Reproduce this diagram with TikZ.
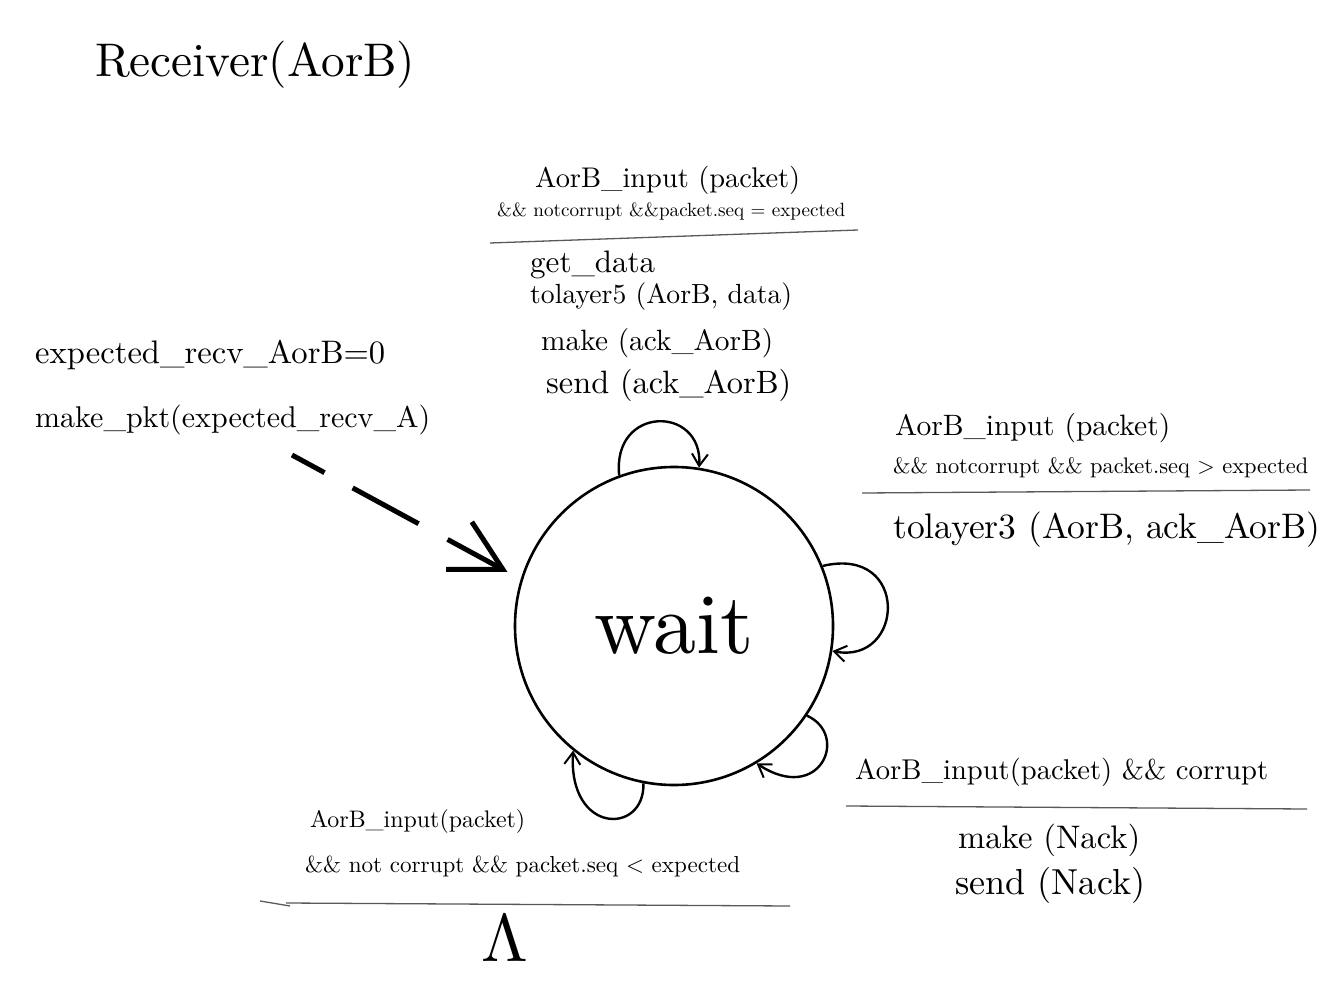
\documentclass[tikz,border=0pt]{standalone}
\usetikzlibrary{arrows.meta}
\newcommand\fitw[2]{\resizebox{#1pt}{!}{#2}}
\begin{document}
\begin{tikzpicture}[x=1pt,y=-1pt,
  lbl/.style={anchor=west,inner sep=0pt},
  sepline/.style={draw=black!65,line width=1.3pt},
  selfloop/.style={draw,line width=2.4pt,-{Straight Barb[length=12pt,width=16pt,line width=2pt]}},
  waitstate/.style={circle,draw,line width=2.6pt,minimum size=318pt,inner sep=0pt},
  initarrow/.style={draw,line width=5pt,dash pattern=on 37pt off 32pt on 75pt off 33pt on 300pt,
     -{Straight Barb[length=50pt,width=54pt,line width=5pt]},shorten >=15pt}]
\fill[white] (0,0) rectangle (1336,1000);
\useasboundingbox (0,0) rectangle (1336,1000);

% title
\node[lbl] (title) at (95,65) {\fitw{320}{Receiver(AorB)}};

% state
\node[waitstate] (w) at (674,626) {\fitw{160}{wait}};

% initial
\node[lbl] (i1) at (35,355) {\fitw{350}{expected\_recv\_AorB=0}};
\node[lbl] (i2) at (35,420) {\fitw{395}{make\_pkt(expected\_recv\_A)}};
\coordinate (s) at (292,455);
\draw[initarrow] (s) -- (w.163);

% top transition
\node[lbl] (t1) at (535,180) {\fitw{265}{AorB\_input (packet)}};
\node[lbl] (t2) at (497,212) {\fitw{348}{\&\& notcorrupt \&\&packet.seq = expected}};
\draw[sepline] (490,243) -- (858,230);
\node[lbl] (t3) at (530,265) {\fitw{125}{get\_data}};
\node[lbl] (t4) at (530,297) {\fitw{262}{tolayer5 (AorB, data)}};
\node[lbl] (t5) at (541,343) {\fitw{232}{make (ack\_AorB)}};
\node[lbl] (t6) at (546,385) {\fitw{245}{send (ack\_AorB)}};
\draw[selfloop] (w.110) .. controls (612,405) and (703,405) .. (w.81);

% right transition
\node[lbl] (r1) at (895,428) {\fitw{275}{AorB\_input (packet)}};
\node[lbl] (r2) at (893,468) {\fitw{415}{\&\& notcorrupt \&\& packet.seq > expected}};
\draw[sepline] (862,493) -- (1310,490);
\node[lbl] (r3) at (893,530) {\fitw{427}{tolayer3 (AorB, ack\_AorB)}};
\draw[selfloop] (w.22) .. controls (910,545) and (905,665) .. (w.-9);

% bottom-right transition
\node[lbl] (b1) at (855,772) {\fitw{413}{AorB\_input(packet) \&\& corrupt}};
\draw[sepline] (846,806) -- (1307,809);
\node[lbl] (b2) at (958,840) {\fitw{182}{make (Nack)}};
\node[lbl] (b3) at (955,885) {\fitw{190}{send (Nack)}};
\draw[selfloop] (w.-34) .. controls (850,735) and (820,805) .. (w.-59);

% bottom transition
\node[lbl] (l1) at (310,822) {\fitw{215}{AorB\_input(packet)}};
\node[lbl] (l2) at (305,866) {\fitw{435}{\&\& not corrupt \&\& packet.seq < expected}};
\draw[sepline] (260,901) -- (290,906);
\draw[sepline] (286,903) -- (790,906);
\node[inner sep=0pt] (lam) at (505,938) {\resizebox{!}{46pt}{$\Lambda$}};
\draw[selfloop] (w.-101) .. controls (645,835) and (568,835) .. (w.-129);
\end{tikzpicture}
\end{document}
